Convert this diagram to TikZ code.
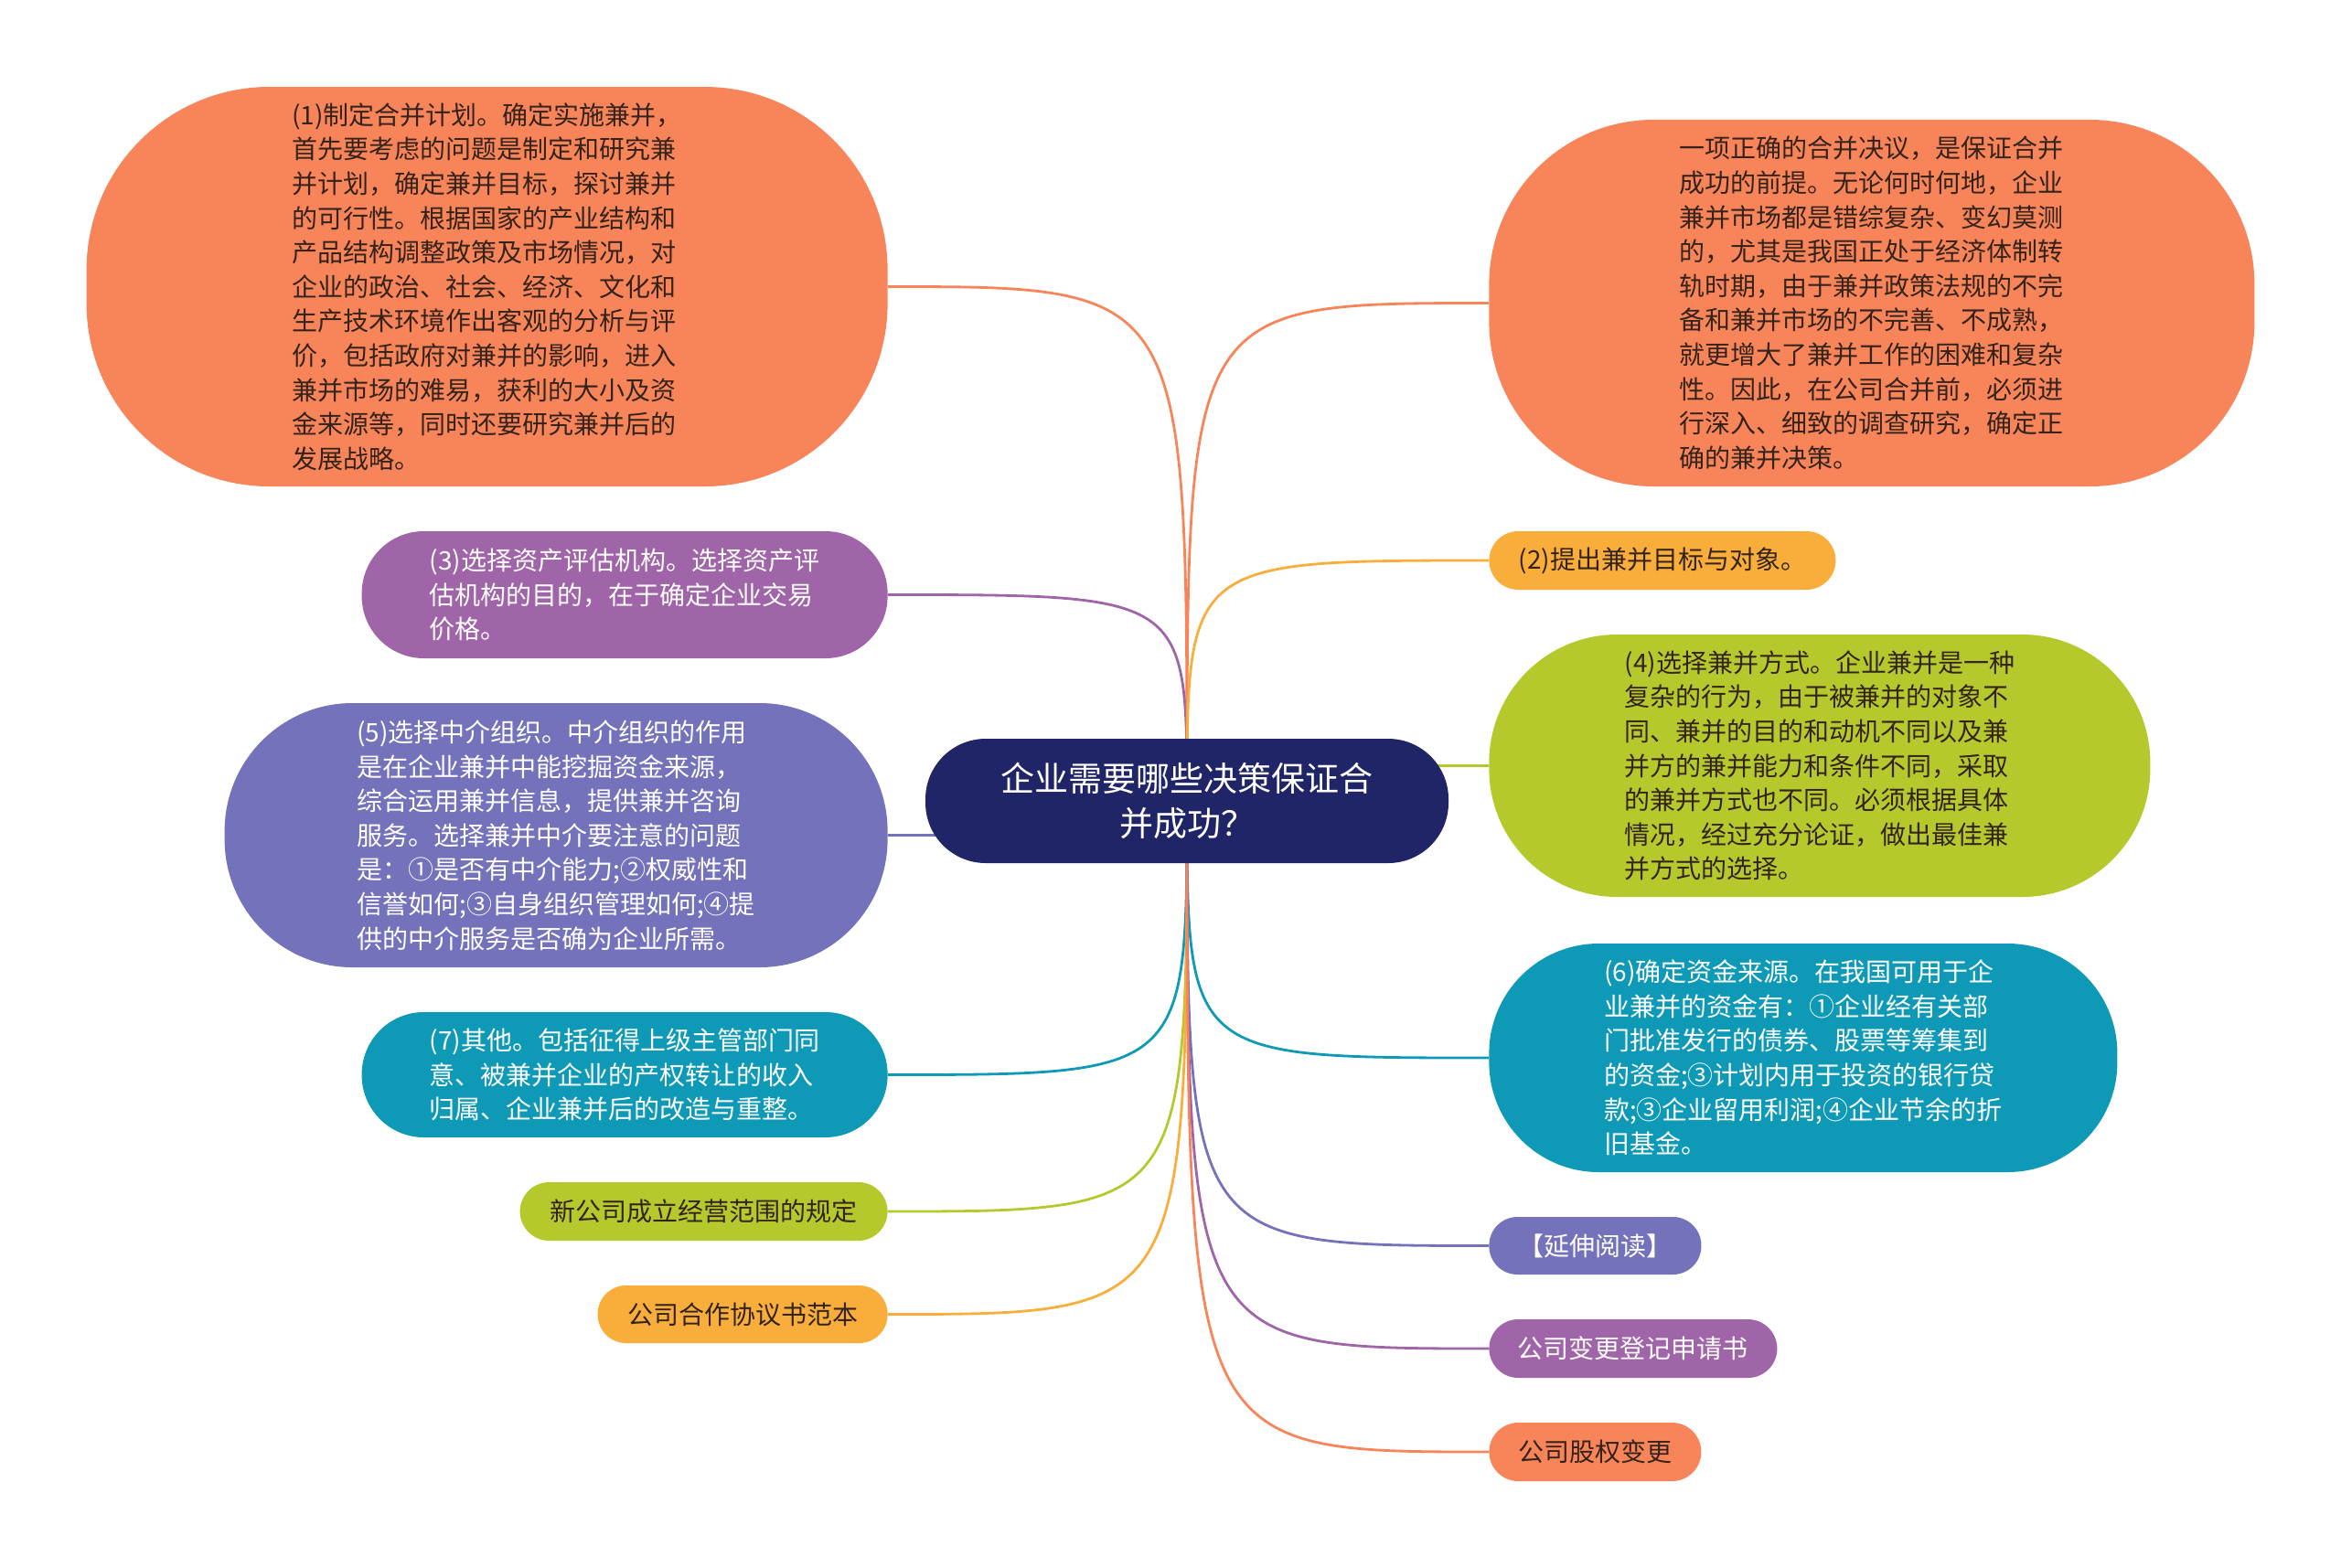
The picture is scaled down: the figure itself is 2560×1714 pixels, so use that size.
\documentclass[tikz,border=0pt]{standalone}
\usepackage{fontspec}
\newfontfamily\cjk{Noto Sans CJK SC}
\usetikzlibrary{backgrounds}
\definecolor{orangeC}{HTML}{F8845A}
\definecolor{yellowC}{HTML}{F9AE3B}
\definecolor{purpleC}{HTML}{A064A8}
\definecolor{violetC}{HTML}{7472BB}
\definecolor{greenC}{HTML}{B5C92D}
\definecolor{tealC}{HTML}{0E9AB7}
\definecolor{navyC}{HTML}{1F2566}
\definecolor{darkC}{HTML}{33231A}

\begin{document}
\begin{tikzpicture}[x=0.5pt,y=-0.5pt,
    topic/.style={inner sep=0pt, align=left, font=\cjk\fontsize{14pt}{18.8pt}\selectfont},
    leftside/.style={topic, anchor=east},
    rightside/.style={topic, anchor=west},
    branch/.style={line width=1.4pt}]
  \useasboundingbox (0,0) rectangle (2560,1714);

  \node[topic, fill=navyC, text=white, align=center, font=\cjk\fontsize{18.5pt}{24.5pt}\selectfont,
        minimum width=286pt, minimum height=68pt, rounded corners=33pt] (root) at (1298,876)
        {企业需要哪些决策保证合\\并成功？};

  % left side
  \node[leftside, fill=orangeC, text=darkC, minimum width=438pt, minimum height=218.5pt, rounded corners=100pt] (plan) at (971,313.5)
        {(1)制定合并计划。确定实施兼并，\\首先要考虑的问题是制定和研究兼\\并计划，确定兼并目标，探讨兼并\\的可行性。根据国家的产业结构和\\产品结构调整政策及市场情况，对\\企业的政治、社会、经济、文化和\\生产技术环境作出客观的分析与评\\价，包括政府对兼并的影响，进入\\兼并市场的难易，获利的大小及资\\金来源等，同时还要研究兼并后的\\发展战略。};
  \node[leftside, fill=purpleC, text=white, minimum width=287.5pt, minimum height=69.5pt, rounded corners=34pt] (assess) at (971,650.5)
        {(3)选择资产评估机构。选择资产评\\估机构的目的，在于确定企业交易\\价格。};
  \node[leftside, fill=violetC, text=white, minimum width=362.5pt, minimum height=144.5pt, rounded corners=70pt] (agency) at (971,913.5)
        {(5)选择中介组织。中介组织的作用\\是在企业兼并中能挖掘资金来源，\\综合运用兼并信息，提供兼并咨询\\服务。选择兼并中介要注意的问题\\是：①是否有中介能力;②权威性和\\信誉如何;③自身组织管理如何;④提\\供的中介服务是否确为企业所需。};
  \node[leftside, fill=tealC, text=white, minimum width=287.5pt, minimum height=68.5pt, rounded corners=34pt] (other) at (971,1175.5)
        {(7)其他。包括征得上级主管部门同\\意、被兼并企业的产权转让的收入\\归属、企业兼并后的改造与重整。};
  \node[leftside, fill=greenC, text=darkC, minimum width=201pt, minimum height=32pt, rounded corners=16pt] (scope) at (971,1325)
        {新公司成立经营范围的规定};
  \node[leftside, fill=yellowC, text=darkC, minimum width=158.5pt, minimum height=31.5pt, rounded corners=15.5pt] (sample) at (971,1437.5)
        {公司合作协议书范本};

  % right side
  \node[rightside, fill=orangeC, text=darkC, minimum width=418.5pt, minimum height=200.5pt, rounded corners=90pt] (decide) at (1628,331.5)
        {一项正确的合并决议，是保证合并\\成功的前提。无论何时何地，企业\\兼并市场都是错综复杂、变幻莫测\\的，尤其是我国正处于经济体制转\\轨时期，由于兼并政策法规的不完\\备和兼并市场的不完善、不成熟，\\就更增大了兼并工作的困难和复杂\\性。因此，在公司合并前，必须进\\行深入、细致的调查研究，确定正\\确的兼并决策。};
  \node[rightside, fill=yellowC, text=darkC, minimum width=189.5pt, minimum height=32pt, rounded corners=16pt] (target) at (1628,613)
        {(2)提出兼并目标与对象。};
  \node[rightside, fill=greenC, text=darkC, minimum width=361.5pt, minimum height=143.5pt, rounded corners=70pt] (mode) at (1628,837.5)
        {(4)选择兼并方式。企业兼并是一种\\复杂的行为，由于被兼并的对象不\\同、兼并的目的和动机不同以及兼\\并方的兼并能力和条件不同，采取\\的兼并方式也不同。必须根据具体\\情况，经过充分论证，做出最佳兼\\并方式的选择。};
  \node[rightside, fill=tealC, text=white, minimum width=343.5pt, minimum height=125pt, rounded corners=60pt] (funds) at (1628,1157)
        {(6)确定资金来源。在我国可用于企\\业兼并的资金有：①企业经有关部\\门批准发行的债券、股票等筹集到\\的资金;③计划内用于投资的银行贷\\款;③企业留用利润;④企业节余的折\\旧基金。};
  \node[rightside, fill=violetC, text=white, minimum width=116pt, minimum height=31.5pt, rounded corners=15.5pt] (more) at (1628,1362.5)
        {【延伸阅读】};
  \node[rightside, fill=purpleC, text=white, minimum width=157.5pt, minimum height=32pt, rounded corners=16pt] (change) at (1628,1475)
        {公司变更登记申请书};
  \node[rightside, fill=orangeC, text=darkC, minimum width=116pt, minimum height=32pt, rounded corners=16pt] (equity) at (1628,1588)
        {公司股权变更};

  \begin{scope}[on background layer]
    \foreach \n/\c in {plan/orangeC, assess/purpleC, agency/violetC, other/tealC, scope/greenC, sample/yellowC}
      \draw[branch, \c] (root.center) .. controls (root.center |- \n.east) .. (\n.east);
    \foreach \n/\c in {decide/orangeC, target/yellowC, mode/greenC, funds/tealC, more/violetC, change/purpleC, equity/orangeC}
      \draw[branch, \c] (root.center) .. controls (root.center |- \n.west) .. (\n.west);
  \end{scope}
\end{tikzpicture}
\end{document}
